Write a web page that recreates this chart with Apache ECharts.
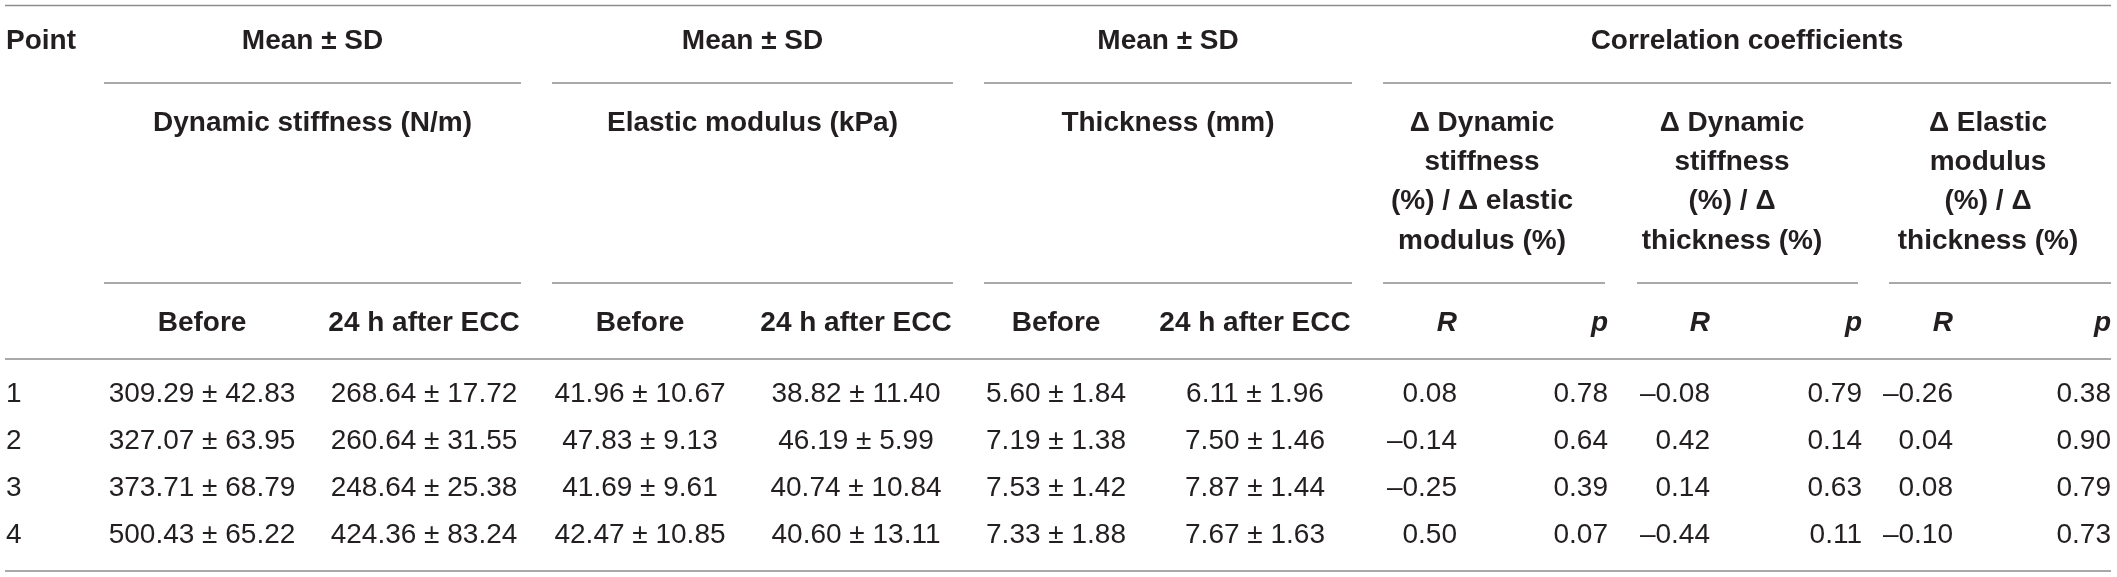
<!DOCTYPE html>
<html>
<head>
<meta charset="utf-8">
<title>Table</title>
<script src="https://cdn.jsdelivr.net/npm/echarts@6/dist/echarts.min.js"></script>
<style>
  html, body { margin: 0; padding: 0; background: #fff; }
  #table { width: 2117px; height: 577px; }
</style>
</head>
<body>
<div id="table"></div>
<script>
// table values, one array per column
var points = ['1', '2', '3', '4'];
var stiffBeforeMean = [309.29, 327.07, 373.71, 500.43];
var stiffBeforeSD = [42.83, 63.95, 68.79, 65.22];
var stiffAfterMean = [268.64, 260.64, 248.64, 424.36];
var stiffAfterSD = [17.72, 31.55, 25.38, 83.24];
var elasBeforeMean = [41.96, 47.83, 41.69, 42.47];
var elasBeforeSD = [10.67, 9.13, 9.61, 10.85];
var elasAfterMean = [38.82, 46.19, 40.74, 40.60];
var elasAfterSD = [11.40, 5.99, 10.84, 13.11];
var thickBeforeMean = [5.60, 7.19, 7.53, 7.33];
var thickBeforeSD = [1.84, 1.38, 1.42, 1.88];
var thickAfterMean = [6.11, 7.50, 7.87, 7.67];
var thickAfterSD = [1.96, 1.46, 1.44, 1.63];
var rStiffElas = [0.08, -0.14, -0.25, 0.50];
var pStiffElas = [0.78, 0.64, 0.39, 0.07];
var rStiffThick = [-0.08, 0.42, 0.14, -0.44];
var pStiffThick = [0.79, 0.14, 0.63, 0.11];
var rElasThick = [-0.26, 0.04, 0.08, -0.10];
var pElasThick = [0.38, 0.90, 0.79, 0.73];

// header texts
var groupTitles = ['Mean ± SD', 'Mean ± SD', 'Mean ± SD', 'Correlation coefficients'];
var measureTitles = ['Dynamic stiffness (N/m)', 'Elastic modulus (kPa)', 'Thickness (mm)'];
var corrTitles = [
    'Δ Dynamic\nstiffness\n(%) / Δ elastic\nmodulus (%)',
    'Δ Dynamic\nstiffness\n(%) / Δ\nthickness (%)',
    'Δ Elastic\nmodulus\n(%) / Δ\nthickness (%)'
];
var timeLabels = ['Before', '24 h after ECC'];
var statLabels = ['R', 'p'];

// layout (pixels on the hidden axes)
var W = 2117, H = 577;
var rowY = [394, 441, 488, 535];
var meanColX = [202, 424, 640, 856, 1056, 1255];
var corrColX = [1457, 1608, 1710, 1862, 1953, 2111];
var groupSpans = [[104, 521], [552, 953], [984, 1352], [1383, 2111]];
var corrSpans = [[1383, 1605], [1637, 1858], [1889, 2111]];
var corrTextX = [1482, 1732, 1988];
var BOLD = 'bold 28px "Liberation Sans", Arial, sans-serif';
var ITALIC = 'italic bold 28px "Liberation Sans", Arial, sans-serif';
var PLAIN = '28px "Liberation Sans", Arial, sans-serif';

function num(v) {
    return (v < 0 ? '\u2013' : '') + Math.abs(v).toFixed(2);
}
function msd(m, s) {
    return m.toFixed(2) + ' ± ' + s.toFixed(2);
}

var cells = [];
function cell(x, y, text, align, font, lh) {
    cells.push({ x: x, y: y, text: text, align: align, font: font, lh: lh || 34 });
}

// header
cell(6, 41, 'Point', 'left', BOLD);
groupSpans.forEach(function (s, i) {
    cell((s[0] + s[1]) / 2, 41, groupTitles[i], 'center', BOLD);
});
measureTitles.forEach(function (t, i) {
    var s = groupSpans[i];
    cell((s[0] + s[1]) / 2, 123, t, 'center', BOLD);
    cell(meanColX[i * 2], 323, timeLabels[0], 'center', BOLD);
    cell(meanColX[i * 2 + 1], 323, timeLabels[1], 'center', BOLD);
});
corrTitles.forEach(function (t, i) {
    cell(corrTextX[i], 182, t, 'center', BOLD, 39.3);
    cell(corrColX[i * 2], 323, statLabels[0], 'right', ITALIC);
    cell(corrColX[i * 2 + 1], 323, statLabels[1], 'right', ITALIC);
});

// body
var meanCols = [
    [stiffBeforeMean, stiffBeforeSD], [stiffAfterMean, stiffAfterSD],
    [elasBeforeMean, elasBeforeSD], [elasAfterMean, elasAfterSD],
    [thickBeforeMean, thickBeforeSD], [thickAfterMean, thickAfterSD]
];
var corrCols = [rStiffElas, pStiffElas, rStiffThick, pStiffThick, rElasThick, pElasThick];
points.forEach(function (p, r) {
    cell(6, rowY[r], p, 'left', PLAIN);
    meanCols.forEach(function (c, j) {
        cell(meanColX[j], rowY[r], msd(c[0][r], c[1][r]), 'center', PLAIN);
    });
    corrCols.forEach(function (c, j) {
        cell(corrColX[j], rowY[r], num(c[r]), 'right', PLAIN);
    });
});

// horizontal rules
var rules = [[5, 2111, 5.5], [5, 2111, 359], [5, 2111, 571]];
groupSpans.forEach(function (s) { rules.push([s[0], s[1], 83]); });
groupSpans.slice(0, 3).concat(corrSpans).forEach(function (s) { rules.push([s[0], s[1], 283]); });

var myChart = echarts.init(document.getElementById('table'));
myChart.setOption({
    animation: false,
    grid: { left: 0, right: 0, top: 0, bottom: 0 },
    xAxis: { type: 'value', min: 0, max: W, show: false },
    yAxis: { type: 'value', min: 0, max: H, inverse: true, show: false },
    series: [{
        type: 'custom',
        data: rules.map(function (r) { return [r[0], r[2], r[1]]; }),
        renderItem: function (params, api) {
            var a = api.coord([api.value(0), api.value(1)]);
            var b = api.coord([api.value(2), api.value(1)]);
            return {
                type: 'line',
                shape: { x1: a[0], y1: a[1], x2: b[0], y2: b[1] },
                style: { stroke: '#8c8c8c', lineWidth: 1.5 }
            };
        },
        silent: true
    }, {
        type: 'custom',
        data: cells.map(function (c, i) { return [c.x, c.y, i]; }),
        renderItem: function (params, api) {
            var c = cells[api.value(2)];
            var pt = api.coord([api.value(0), api.value(1)]);
            return {
                type: 'text',
                x: pt[0],
                y: pt[1],
                style: {
                    text: c.text,
                    font: c.font,
                    fill: '#231f20',
                    align: c.align,
                    verticalAlign: 'middle',
                    lineHeight: c.lh
                }
            };
        },
        silent: true
    }]
});
</script>
</body>
</html>
